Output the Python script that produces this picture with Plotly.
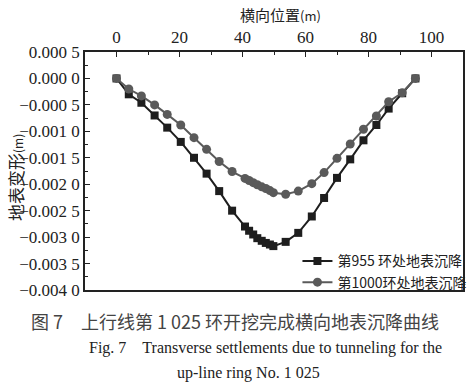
import plotly.graph_objects as go

x_pos = [0, 3.9, 7.9, 12.1, 16.1, 20.4, 24.6, 28.6, 32.6, 36.7, 40.8, 42.1, 43.4, 44.7,
         46.1, 47.4, 48.7, 49.8, 53.7, 57.7, 62.0, 65.9, 70.0, 74.2, 78.4, 82.5, 86.4,
         90.7, 94.9]
ring955 = [0, -0.0003, -0.00046, -0.0007, -0.00093, -0.0012, -0.0015, -0.0018, -0.00213,
           -0.0025, -0.0028, -0.00288, -0.00295, -0.00302, -0.00307, -0.00311, -0.00314,
           -0.00317, -0.00309, -0.00292, -0.00261, -0.00226, -0.00188, -0.00153, -0.00117,
           -0.00088, -0.00057, -0.00028, 0]
ring1000 = [0, -0.0002, -0.00033, -0.0005, -0.00068, -0.00088, -0.00112, -0.00134, -0.00157,
            -0.00176, -0.00189, -0.00193, -0.00197, -0.00201, -0.00205, -0.00208, -0.00212,
            -0.00216, -0.00219, -0.00213, -0.00199, -0.00178, -0.00151, -0.00124, -0.00096,
            -0.00071, -0.00044, -0.00027, 0]

x_ticks = [0, 20, 40, 60, 80, 100]
y_ticks = [0.0005, 0, -0.0005, -0.001, -0.0015, -0.002, -0.0025, -0.003, -0.0035, -0.004]
y_ticktext = ["0.000 5", "0.000 0", "−0.000 5", "−0.001 0", "−0.001 5", "−0.002 0",
              "−0.002 5", "−0.003 0", "−0.003 5", "−0.004 0"]

serif = "Liberation Serif, Times New Roman, serif"
cjk = "Noto Sans CJK SC"

fig = go.Figure()
fig.add_trace(go.Scatter(
    x=x_pos, y=ring955, mode="lines+markers", name="第955 环处地表沉降",
    line=dict(color="#1e1e1e", width=2),
    marker=dict(symbol="square", size=8, color="#1e1e1e"),
))
fig.add_trace(go.Scatter(
    x=x_pos, y=ring1000, mode="lines+markers", name="第1000环处地表沉降",
    line=dict(color="#5a5a5a", width=2),
    marker=dict(symbol="circle", size=9, color="#5a5a5a"),
))

fig.update_layout(
    width=471, height=391,
    margin=dict(l=85, r=8, t=52, b=101, autoexpand=False),
    paper_bgcolor="white", plot_bgcolor="white",
    showlegend=True,
    legend=dict(x=1.025, y=-0.035, xanchor="right", yanchor="bottom",
                bgcolor="rgba(0,0,0,0)", font=dict(family=cjk, size=14, color="#222"),
                tracegroupgap=0, itemwidth=30),
    xaxis=dict(
        side="top", range=[-10, 110], tickvals=x_ticks, ticktext=[str(v) for v in x_ticks],
        ticks="inside", ticklen=5, tickcolor="#222", showline=True, linecolor="#222",
        linewidth=1.5, mirror=True, showgrid=False, zeroline=False, automargin=False,
        minor=dict(tickvals=[10, 30, 50, 70, 90], ticks="inside", ticklen=3, tickcolor="#222"),
        tickfont=dict(family=serif, size=17, color="#222"),
    ),
    yaxis=dict(
        range=[-0.004, 0.0005], tickvals=y_ticks, ticktext=y_ticktext,
        ticks="inside", ticklen=5, tickcolor="#222", showline=True, linecolor="#222",
        linewidth=1.5, mirror=True, showgrid=False, zeroline=False, automargin=False,
        minor=dict(dtick=0.00025, ticks="inside", ticklen=3, tickcolor="#222"),
        tickfont=dict(family=serif, size=17, color="#222"),
    ),
)

fig.add_annotation(text="横向位置<span style='font-size:13px'>(m)</span>", xref="paper", yref="paper",
                   x=(280 - 85) / 378, y=1.0, yshift=38, showarrow=False,
                   xanchor="center", yanchor="middle",
                   font=dict(family=cjk, size=15, color="#222"))
fig.add_annotation(text="地表变形<span style='font-size:12px'>(m)</span>", xref="paper", yref="paper",
                   x=0, y=(290 - 178) / 238, xshift=-70, showarrow=False, textangle=-90,
                   xanchor="center", yanchor="middle",
                   font=dict(family=cjk, size=17, color="#222"))

fig.add_annotation(text="图 7　上行线第 1 025 环开挖完成横向地表沉降曲线", xref="paper", yref="paper",
                   x=(234.5 - 85) / 378, y=(290 - 321) / 238, showarrow=False,
                   xanchor="center", yanchor="middle",
                   font=dict(family=cjk, size=18, color="#444"))
fig.add_annotation(text="Fig. 7　Transverse settlements due to tunneling for the", xref="paper", yref="paper",
                   x=(265 - 85) / 378, y=(290 - 348) / 238, showarrow=False,
                   xanchor="center", yanchor="middle",
                   font=dict(family=serif, size=16, color="#222"))
fig.add_annotation(text="up-line ring No. 1 025", xref="paper", yref="paper",
                   x=(248 - 85) / 378, y=(290 - 373) / 238, showarrow=False,
                   xanchor="center", yanchor="middle",
                   font=dict(family=serif, size=16, color="#222"))

fig.write_html("out.html", config={"displayModeBar": False},
               post_script="document.body.style.margin='0px';document.body.style.padding='0px';")
